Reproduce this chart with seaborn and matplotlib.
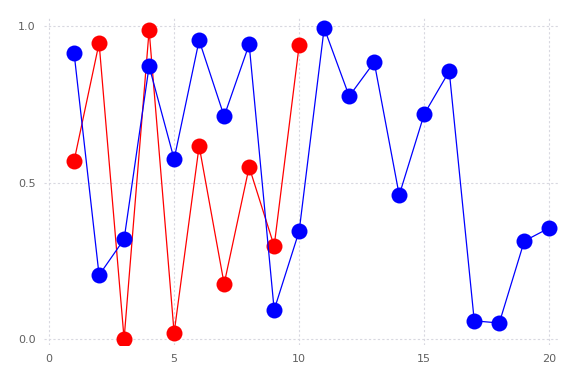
import numpy as np
import pandas as pd
import matplotlib
matplotlib.use("Agg")
import matplotlib.pyplot as plt
import seaborn as sns

blue_x = list(range(1, 21))
blue_y = [0.914, 0.204, 0.319, 0.872, 0.575, 0.955, 0.712, 0.942, 0.093, 0.345,
          0.994, 0.776, 0.885, 0.460, 0.719, 0.856, 0.058, 0.051, 0.313, 0.355]
red_x = list(range(1, 11))
red_y = [0.569, 0.946, 0.0, 0.987, 0.019, 0.617, 0.176, 0.550, 0.297, 0.939]

x_ticks = [0, 5, 10, 15, 20]
y_ticks = [0.0, 0.5, 1.0]

sns.set_style("white")
fig, ax = plt.subplots(figsize=(5.76, 3.84), dpi=100)

red_df = pd.DataFrame({"x": red_x, "y": red_y})
blue_df = pd.DataFrame({"x": blue_x, "y": blue_y})

sns.lineplot(data=red_df, x="x", y="y", ax=ax, color="red", marker="o",
             markersize=11.5, markeredgewidth=0, linewidth=0.9)
sns.lineplot(data=blue_df, x="x", y="y", ax=ax, color="blue", marker="o",
             markersize=11.5, markeredgewidth=0, linewidth=0.9)

ax.set_xlim(-0.2, 20.4)
ax.set_ylim(-0.02, 1.026)
ax.set_xticks(x_ticks)
ax.set_yticks(y_ticks)
ax.set_yticklabels([f"{v:.1f}" for v in y_ticks])
ax.set_xlabel("")
ax.set_ylabel("")
ax.grid(True, linestyle=(0, (2, 2)), color="#d8d8e0", linewidth=0.8)
ax.set_axisbelow(True)
for s in ax.spines.values():
    s.set_visible(False)
ax.tick_params(axis="both", length=0, labelsize=8, labelcolor="#606060", pad=6)

fig.subplots_adjust(left=0.0765, right=0.971, top=0.953, bottom=0.101)
fig.savefig("out.png", dpi=100)
